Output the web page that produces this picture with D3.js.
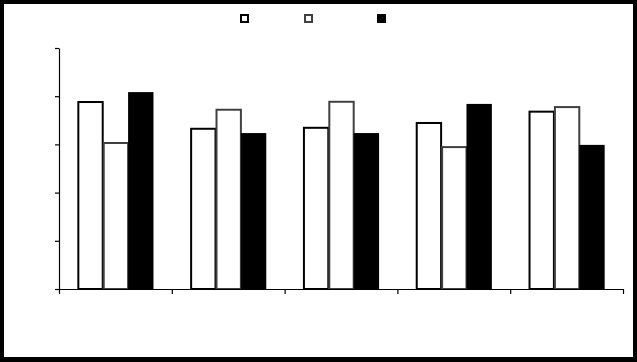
<!DOCTYPE html>
<html>
<head>
<meta charset="utf-8">
<script src="https://cdn.jsdelivr.net/npm/d3@7"></script>
<style>
  body { margin: 0; background: #fff; }
  svg { display: block; }
</style>
</head>
<body>
<div id="chart"></div>
<script>
// data (no labels are shown in the original)
var categories = ["1", "2", "3", "4", "5"];
var seriesNames = ["A", "B", "C"];
var seriesA = [78.0, 66.9, 67.3, 69.3, 74.0];
var seriesB = [61.0, 74.8, 78.1, 59.3, 75.9];
var seriesC = [81.7, 64.7, 64.7, 76.8, 59.8];
var yTicks = [0, 20, 40, 60, 80, 100];

var svgWidth = 637;
var svgHeight = 362;
var margin = { top: 48, right: 14, bottom: 73, left: 59 };
var width = svgWidth - margin.left - margin.right;
var height = svgHeight - margin.top - margin.bottom;

var fills = ["#fff", "#fff", "#000"];
var strokes = ["#000", "#404040", "#000"];

var svg = d3.select("#chart").append("svg")
    .attr("width", svgWidth)
    .attr("height", svgHeight);

// black frame round the whole picture
svg.append("rect")
    .attr("width", svgWidth)
    .attr("height", svgHeight)
    .attr("fill", "#000");
svg.append("rect")
    .attr("x", 4)
    .attr("y", 4)
    .attr("width", svgWidth - 8)
    .attr("height", svgHeight - 9)
    .attr("fill", "#fff");

var chartGroup = svg.append("g")
    .attr("transform", `translate(${margin.left}, ${margin.top})`);

var table = categories.map(function(c, i) {
    return { cat: c, values: [seriesA[i], seriesB[i], seriesC[i]] };
});

var x0 = d3.scaleBand()
    .domain(categories)
    .range([0, width])
    .paddingInner(0.325)
    .paddingOuter(0.1625);

var x1 = d3.scaleBand()
    .domain(d3.range(seriesNames.length))
    .range([0, x0.bandwidth()]);

var y = d3.scaleLinear()
    .domain([0, 100])
    .range([height, 0]);

// bars
var groups = chartGroup.selectAll(".grp")
    .data(table)
    .enter()
    .append("g")
    .attr("class", "grp")
    .attr("transform", d => `translate(${x0(d.cat)}, 0)`);

groups.selectAll("rect")
    .data(d => d.values.map((v, i) => ({ v: v, i: i })))
    .enter()
    .append("rect")
    .attr("x", d => x1(d.i) + (d.i === 2 ? 0 : 1))
    .attr("y", d => y(d.v) + (d.i === 2 ? 0 : 1))
    .attr("width", d => x1.bandwidth() - (d.i === 2 ? 0 : 1))
    .attr("height", d => height - y(d.v) - (d.i === 2 ? 0 : 1))
    .attr("fill", d => fills[d.i])
    .attr("stroke", d => d.i === 2 ? "none" : strokes[d.i])
    .attr("stroke-width", 2);

// axes, with no tick labels
var xAxisScale = d3.scaleLinear().domain([0, categories.length]).range([0, width]);
var bottomAxis = d3.axisBottom(xAxisScale)
    .tickValues(d3.range(categories.length + 1))
    .tickSize(5)
    .tickSizeOuter(0)
    .tickFormat("");
var leftAxis = d3.axisLeft(y)
    .tickValues(yTicks)
    .tickSize(4)
    .tickSizeOuter(0)
    .tickFormat("");

chartGroup.append("g")
    .attr("transform", `translate(0, ${height})`)
    .call(bottomAxis)
    .call(g => g.selectAll("line,path").attr("stroke", "#000").attr("stroke-width", 1.2));

chartGroup.append("g")
    .call(leftAxis)
    .call(g => g.selectAll("line,path").attr("stroke", "#000").attr("stroke-width", 1.2));

// legend boxes
var legendX = [240, 304, 377];
svg.selectAll(".legendBox")
    .data(seriesNames)
    .enter()
    .append("rect")
    .attr("class", "legendBox")
    .attr("x", (d, i) => legendX[i] + 1)
    .attr("y", 15)
    .attr("width", 7)
    .attr("height", 7)
    .attr("fill", (d, i) => fills[i])
    .attr("stroke", (d, i) => i === 2 ? "#000" : strokes[i])
    .attr("stroke-width", 2);
</script>
</body>
</html>
